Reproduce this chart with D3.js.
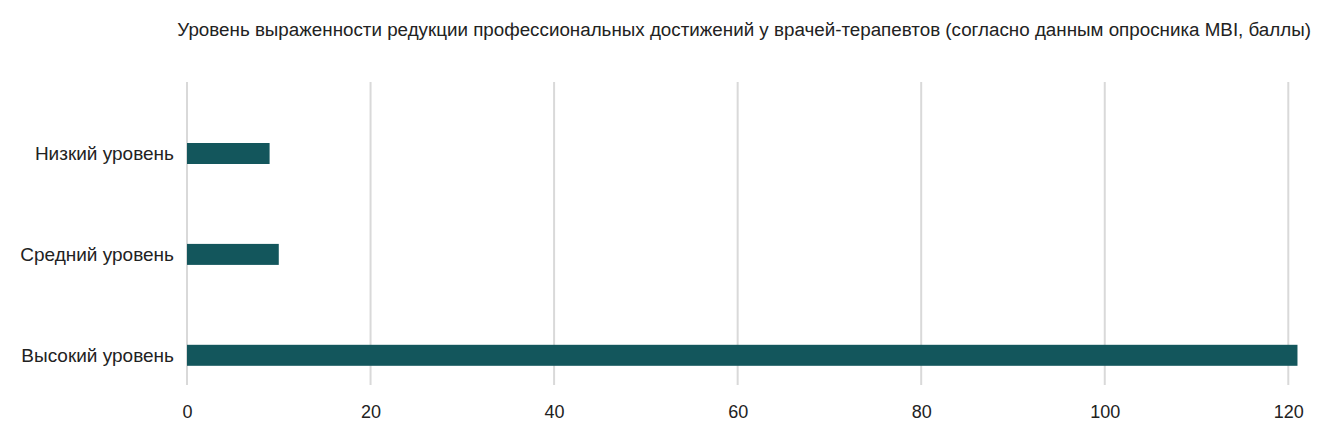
<!DOCTYPE html>
<html>
<head>
<meta charset="utf-8">
<script src="https://cdn.jsdelivr.net/npm/d3@7"></script>
<style>
  html, body { margin: 0; padding: 0; background: #fff; }
  svg { display: block; font-family: "Liberation Sans", Arial, sans-serif; }
</style>
</head>
<body>
<svg id="chart" width="1338" height="434"></svg>
<script>
const title = "Уровень выраженности редукции профессиональных достижений у врачей-терапевтов (согласно данным опросника MBI, баллы)";
const categories = ["Низкий уровень", "Средний уровень", "Высокий уровень"];
const values = [9, 10, 121];
const xTicks = [0, 20, 40, 60, 80, 100, 120];

const svg = d3.select("#chart");
const left = 187, right = 1288.3;
const gridTop = 82, gridBottom = 385;
const barH = 21;

const x = d3.scaleLinear().domain([0, 120]).range([left, right]);
const y = d3.scalePoint().domain(categories).range([153.5, 355.3]);

// gridlines
svg.append("g").selectAll("line").data(xTicks).join("line")
  .attr("x1", d => x(d)).attr("x2", d => x(d))
  .attr("y1", gridTop).attr("y2", gridBottom)
  .attr("stroke", "#d9d9d9").attr("stroke-width", 2);

// bars
svg.append("g").selectAll("rect").data(values).join("rect")
  .attr("x", x(0))
  .attr("y", (d, i) => y(categories[i]) - barH / 2)
  .attr("width", d => x(d) - x(0))
  .attr("height", barH)
  .attr("fill", "#13565c");

// x axis labels
const xAxis = d3.axisBottom(x).tickValues(xTicks).tickSize(0).tickPadding(0);
const gx = svg.append("g").attr("transform", `translate(0, 418)`).call(xAxis);
gx.select(".domain").remove();
gx.selectAll("text").attr("font-size", 18).attr("fill", "#222")
  .attr("font-family", "Liberation Sans, Arial, sans-serif").attr("dy", 0);

// y axis labels
const yAxis = d3.axisLeft(y).tickSize(0).tickPadding(13);
const gy = svg.append("g").attr("transform", `translate(${left}, 0)`).call(yAxis);
gy.select(".domain").remove();
gy.selectAll("text").attr("font-size", 19).attr("fill", "#222")
  .attr("font-family", "Liberation Sans, Arial, sans-serif").attr("dy", "0.34em");

// title
svg.append("text")
  .attr("x", 1311).attr("y", 36)
  .attr("text-anchor", "end")
  .attr("font-size", 18.8)
  .attr("fill", "#222")
  .text(title);
</script>
</body>
</html>
